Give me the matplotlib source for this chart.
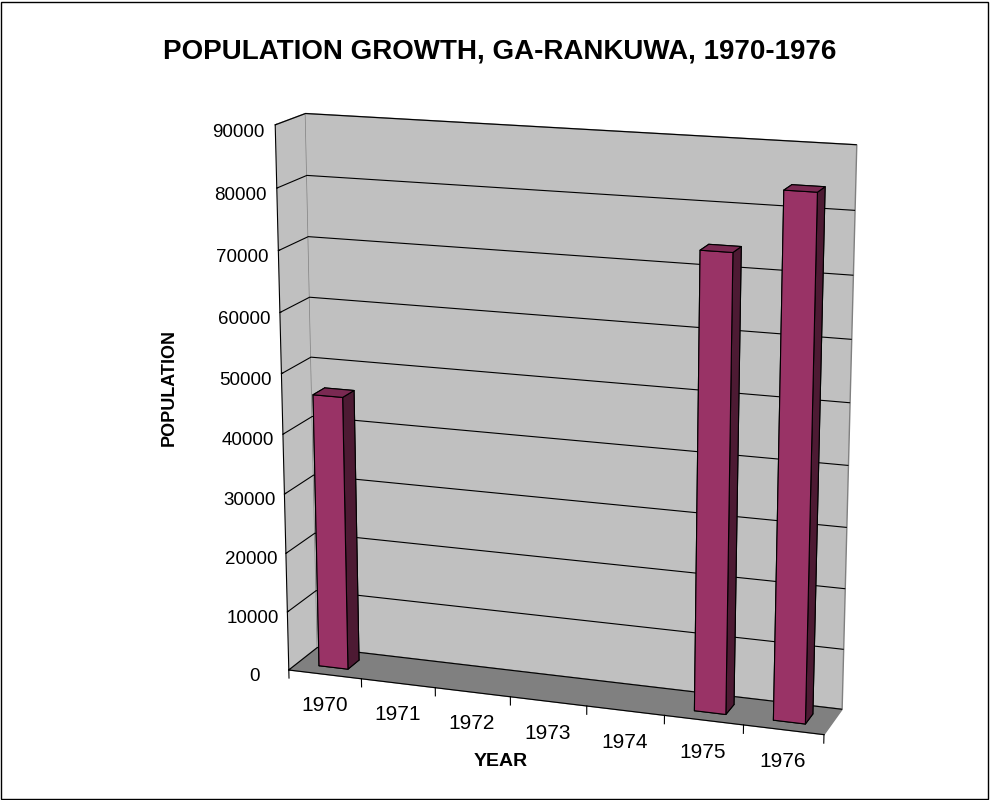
import numpy as np
import matplotlib.pyplot as plt
from matplotlib.patches import Rectangle

years = ['1970', '1971', '1972', '1973', '1974', '1975', '1976']
population = [46000, None, None, None, None, 74000, 84000]  # no data 1971-74
z_ticks = list(range(0, 90001, 10000))

plt.rcParams['font.family'] = ['Liberation Sans', 'DejaVu Sans']

fig = plt.figure(figsize=(9.9, 8.0), dpi=100)
ax = fig.add_axes([0.126, 0.004, 0.86, 0.92], projection='3d')
ax.set_proj_type('persp', focal_length=0.75)
ax.view_init(elev=15, azim=-71)
ax.set_box_aspect((1, 0.13, 1), zoom=1.075)

# walls / floor
wall = '#C0C0C0'
ax.xaxis.set_pane_color(wall)
ax.yaxis.set_pane_color(wall)
ax.zaxis.set_pane_color('#808080')
for a in (ax.xaxis, ax.yaxis, ax.zaxis):
    a.pane.set_edgecolor('#808080')

# bars
front, top, side = '#993366', '#7a2952', '#4d1a33'
for i, v in enumerate(population):
    if v is None:
        continue
    ax.bar3d(i + 0.3, 0.3, 0, 0.4, 0.4, v,
             color=[front, top, front, front, side, side],
             edgecolor='black', linewidth=0.8, shade=False)

# category tick marks between the years
for b in range(len(years) + 1):
    ax.plot([b, b], [0, 0], [0, -1400], color='black', linewidth=0.8)

ax.set_xlim(0, 7)
ax.set_ylim(0, 1)
ax.set_zlim(0, 90000)
ax.set_xticks(np.arange(len(years)) + 0.5, labels=years)
ax.set_yticks([])
ax.set_zticks(z_ticks)
ax.tick_params(axis='z', labelsize=13.5)
ax.tick_params(axis='x', labelsize=15)
ax.zaxis.set_ticks_position('lower')
ax.xaxis.set_tick_params(pad=3)
ax.zaxis.set_tick_params(pad=10)

ax.xaxis._axinfo['tick']['inward_factor'] = 0
ax.xaxis._axinfo['tick']['outward_factor'] = 0
ax.zaxis._axinfo['tick']['inward_factor'] = 0
ax.zaxis._axinfo['tick']['outward_factor'] = 0.5
ax.xaxis._axinfo['grid']['linewidth'] = 0
ax.yaxis._axinfo['grid']['linewidth'] = 0
ax.zaxis._axinfo['grid']['color'] = 'black'
ax.zaxis._axinfo['grid']['linewidth'] = 0.8
ax.yaxis.line.set_color((0, 0, 0, 0))

fig.text(0.505, 0.936, 'POPULATION GROWTH, GA-RANKUWA, 1970-1976',
         ha='center', va='center', fontsize=20, fontweight='bold')
fig.text(0.171, 0.515, 'POPULATION', rotation=90, ha='center', va='center',
         fontsize=13, fontweight='bold')
fig.text(0.506, 0.048, 'YEAR', ha='center', va='center', fontsize=14,
         fontweight='bold')
fig.patches.append(Rectangle((0.001, 0.001), 0.997, 0.997, transform=fig.transFigure,
                             fill=False, edgecolor='black', linewidth=1))

fig.savefig('out.png', dpi=100)
